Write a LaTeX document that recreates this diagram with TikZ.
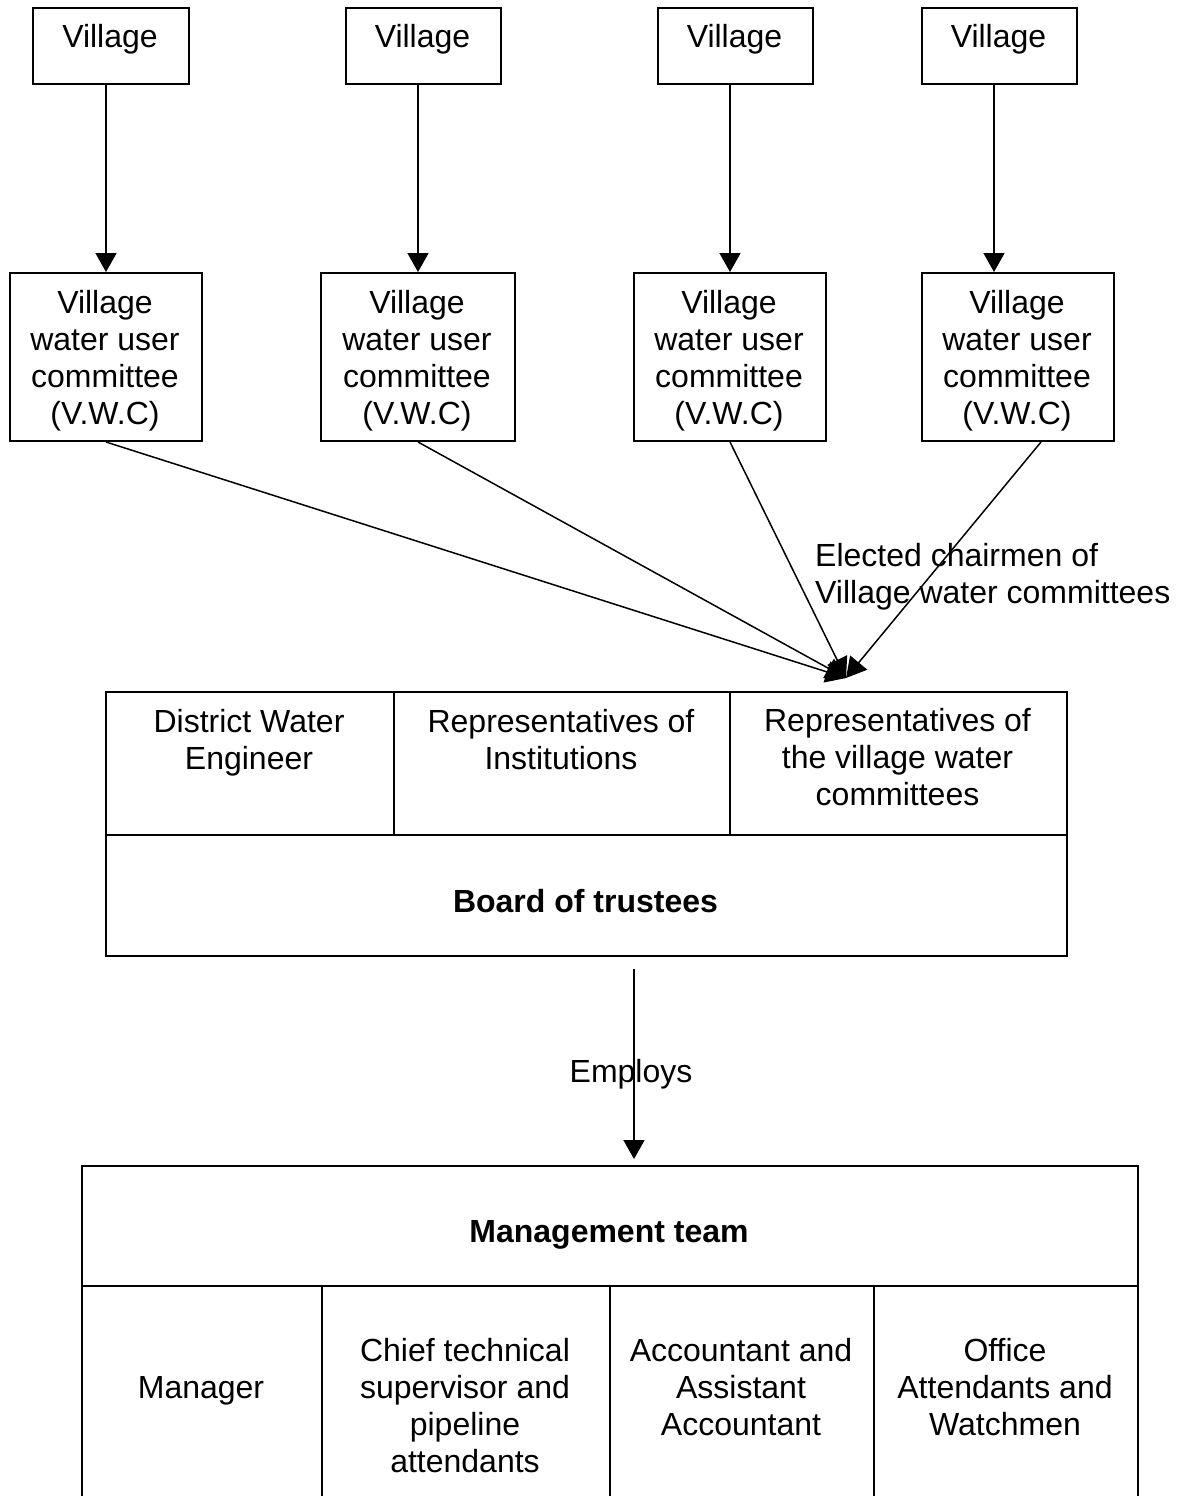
\documentclass[tikz,border=0pt]{standalone}
\usepackage{fontspec}
\setmainfont{Liberation Sans}
\usetikzlibrary{arrows.meta}
\begin{document}
\begin{tikzpicture}[x=1pt,y=-1pt,
  box/.style={draw, line width=2pt, inner sep=0pt, anchor=north west},
  txt/.style={font=\fontsize{32pt}{36.7pt}\selectfont, align=center, anchor=base, inner sep=0pt},
  btxt/.style={txt, font=\fontsize{32pt}{36.7pt}\selectfont\bfseries},
  arr/.style={line width=1.8pt, -{Triangle[width=21pt,length=19pt]}},
  darr/.style={line width=1.5pt, -{Triangle[width=22pt,length=20pt]}}]
\useasboundingbox (0,0) rectangle (1183,1496);
\fill[white] (0,0) rectangle (1183,1496);
\clip (0,0) rectangle (1183,1496);

% Village boxes
\node[box, minimum width=156pt, minimum height=76pt] (v1) at (32,7) {};
\node[box, minimum width=155pt, minimum height=76pt] (v2) at (345,7) {};
\node[box, minimum width=155pt, minimum height=76pt] (v3) at (657,7) {};
\node[box, minimum width=155pt, minimum height=76pt] (v4) at (921,7) {};
\node[txt] (v1t) at (110,48) {Village};
\node[txt] (v2t) at (422.5,48) {Village};
\node[txt] (v3t) at (734.5,48) {Village};
\node[txt] (v4t) at (998.5,48) {Village};

% Village water user committees (anchor base = last line)
\node[box, minimum width=192pt, minimum height=168pt] (w1) at (9,272) {};
\node[box, minimum width=194pt, minimum height=168pt] (w2) at (320,272) {};
\node[box, minimum width=192pt, minimum height=168pt] (w3) at (633,272) {};
\node[box, minimum width=192pt, minimum height=168pt] (w4) at (921,272) {};
\node[txt] (w1t) at (105,424) {Village\\water user\\committee\\(V.W.C)};
\node[txt] (w2t) at (417,424) {Village\\water user\\committee\\(V.W.C)};
\node[txt] (w3t) at (729,424) {Village\\water user\\committee\\(V.W.C)};
\node[txt] (w4t) at (1017,424) {Village\\water user\\committee\\(V.W.C)};

% village -> committee arrows
\coordinate (w4in) at ([xshift=-24pt]w4.north);
\draw[arr] (v1.south -| w1.north) -- (w1.north);
\draw[arr] (v2.south -| w2.north) -- (w2.north);
\draw[arr] (v3.south -| w3.north) -- (w3.north);
\draw[arr] (w4in |- v4.south) -- (w4in);

% convergence to board
\coordinate (conv) at (846,678);
\coordinate (w4out) at ([xshift=23pt]w4.south);
\draw[darr] (w1.south) -- (conv);
\draw[darr] (w2.south) -- (conv);
\draw[darr] (w3.south) -- (conv);
\draw[darr] (w4out) -- (conv);
\node[txt, anchor=base west, align=left] (elected) at (815,603) {Elected chairmen of\\Village water committees};

% Board of trustees
\node[box, minimum width=288pt, minimum height=143pt] (c1) at (105,691) {};
\node[box, minimum width=336pt, minimum height=143pt] (c2) at (393,691) {};
\node[box, minimum width=337pt, minimum height=143pt] (c3) at (729,691) {};
\node[box, minimum width=961pt, minimum height=121pt] (bt) at (105,834) {};
\node[txt] (c1t) at (249,769) {District Water\\Engineer};
\node[txt] (c2t) at (561,769) {Representatives of\\Institutions};
\node[txt] (c3t) at (897.5,805) {Representatives of\\the village water\\committees};
\node[btxt] (btt) at (585.5,912) {Board of trustees};

% Management team
\node[box, minimum width=1056pt, minimum height=120pt] (mt) at (81,1165) {};
\node[box, minimum width=240pt, minimum height=240pt] (m1) at (81,1285) {};
\node[box, minimum width=288pt, minimum height=240pt] (m2) at (321,1285) {};
\node[box, minimum width=264pt, minimum height=240pt] (m3) at (609,1285) {};
\node[box, minimum width=264pt, minimum height=240pt] (m4) at (873,1285) {};
\node[btxt] (mtt) at (609,1242) {Management team};
\node[txt] (m1t) at (201,1398) {Manager};
\node[txt] (m2t) at (465,1472) {Chief technical\\supervisor and\\pipeline\\attendants};
\node[txt] (m3t) at (741,1435) {Accountant and\\Assistant\\Accountant};
\node[txt] (m4t) at (1005,1435) {Office\\Attendants and\\Watchmen};

% Employs arrow
\coordinate (emtop) at ([xshift=47.5pt,yshift=-12pt]bt.south);
\coordinate (embot) at ([xshift=24pt,yshift=6pt]mt.north);
\draw[arr] (emtop) -- (embot);
\node[txt] (employs) at (631,1082) {Employs};
\end{tikzpicture}
\end{document}
